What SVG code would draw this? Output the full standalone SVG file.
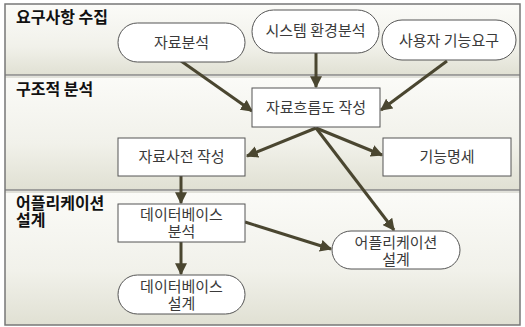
<svg xmlns="http://www.w3.org/2000/svg" width="525" height="327" viewBox="0 0 525 327">
<defs>
<linearGradient id="band" x1="0" y1="0" x2="0" y2="1">
<stop offset="0" stop-color="#fbfbf8"/>
<stop offset="0.6" stop-color="#f1f1ea"/>
<stop offset="1" stop-color="#e0e0d3"/>
</linearGradient>
<marker id="ah" viewBox="0 0 10 10" refX="9" refY="5" markerWidth="4" markerHeight="4" orient="auto" markerUnits="strokeWidth">
<path d="M0,0 L10,5 L0,10 z" fill="#4a4630"/>
</marker>
</defs>
<style>
.lbl{font-family:"Noto Sans CJK KR","Noto Sans",sans-serif;font-size:16px;font-weight:bold;fill:#111}
.t{font-family:"Noto Sans CJK KR","Noto Sans",sans-serif;font-size:15px;fill:#3a3a3a;text-anchor:middle}
.box{fill:#fff;stroke:#555;stroke-width:1}
.ed{stroke:#4a4630;stroke-width:3;fill:none;marker-end:url(#ah)}
.sep{stroke:#888;stroke-width:1.5}
</style>
<rect width="525" height="327" fill="#fff"/>
<g id="lanes">
<rect x="5" y="4" width="515" height="71" fill="url(#band)"/>
<rect x="5" y="75" width="515" height="115" fill="url(#band)"/>
<rect x="5" y="190" width="515" height="135" fill="url(#band)"/>
<line class="sep" x1="5" y1="75" x2="520" y2="75"/>
<line class="sep" x1="5" y1="190" x2="520" y2="190"/>
<line x1="5" y1="77" x2="520" y2="77" stroke="#d8d8d0" stroke-width="1.5"/>
<line x1="5" y1="192" x2="520" y2="192" stroke="#d8d8d0" stroke-width="1.5"/>
<rect x="5" y="4" width="515" height="321" fill="none" stroke="#777" stroke-width="1.5"/>
<text class="lbl" x="16" y="23">요구사항 수집</text>
<text class="lbl" x="16" y="95">구조적 분석</text>
<text class="lbl" x="16" y="209">어플리케이션</text>
<text class="lbl" x="16" y="226">설계</text>
</g>
<g id="connectors">
<line class="ed" x1="181" y1="61" x2="252" y2="111"/>
<line class="ed" x1="316" y1="53" x2="316" y2="87"/>
<line class="ed" x1="447" y1="61" x2="381" y2="110"/>
<line class="ed" x1="316" y1="128" x2="247" y2="156"/>
<line class="ed" x1="316" y1="128" x2="382" y2="155"/>
<line class="ed" x1="316" y1="128" x2="394" y2="230"/>
<line class="ed" x1="181" y1="176" x2="181" y2="203"/>
<line class="ed" x1="245" y1="222" x2="331" y2="249"/>
<line class="ed" x1="181" y1="242" x2="181" y2="274"/>
</g>
<g id="n1"><rect class="box" x="118" y="23" width="127" height="39" rx="19.5"/><text class="t" x="181.5" y="48">자료분석</text></g>
<g id="n2"><rect class="box" x="252" y="10" width="127" height="43" rx="21.5"/><text class="t" x="315.5" y="36">시스템 환경분석</text></g>
<g id="n3"><rect class="box" x="382" y="20" width="134" height="40" rx="20"/><text class="t" x="449" y="46">사용자 기능요구</text></g>
<g id="n4"><rect class="box" x="252" y="88" width="128" height="39"/><text class="t" x="316" y="113">자료흐름도 작성</text></g>
<g id="n5"><rect class="box" x="118" y="138" width="127" height="38"/><text class="t" x="181.5" y="162">자료사전 작성</text></g>
<g id="n6"><rect class="box" x="383" y="138" width="128" height="38"/><text class="t" x="447" y="162">기능명세</text></g>
<g id="n7"><rect class="box" x="118" y="204" width="127" height="38"/><text class="t" x="181.5" y="220">데이터베이스</text><text class="t" x="181.5" y="237">분석</text></g>
<g id="n8"><rect class="box" x="332" y="231" width="128" height="38" rx="19"/><text class="t" x="396" y="248">어플리케이션</text><text class="t" x="396" y="265">설계</text></g>
<g id="n9"><rect class="box" x="118" y="275" width="127" height="39" rx="19.5"/><text class="t" x="181.5" y="292">데이터베이스</text><text class="t" x="181.5" y="309">설계</text></g>
</svg>
